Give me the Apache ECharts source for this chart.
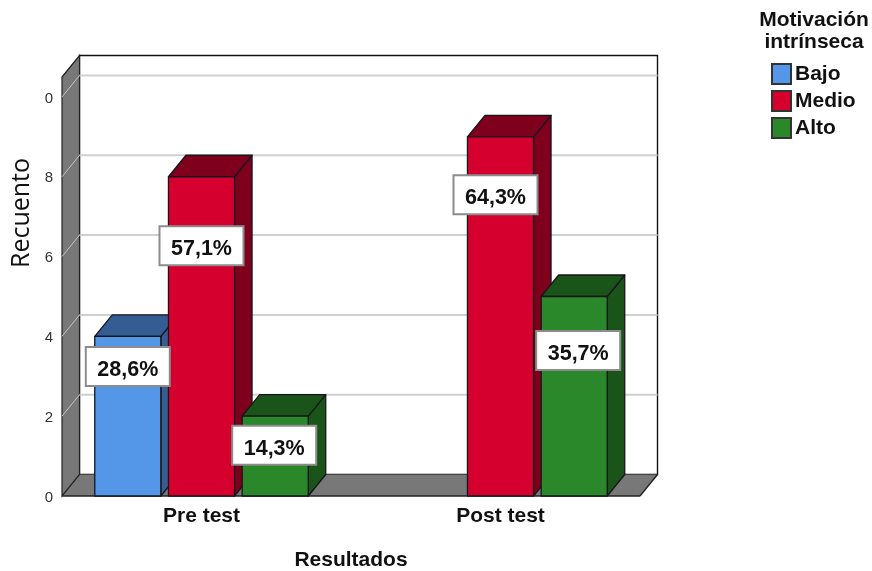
<!DOCTYPE html>
<html>
<head>
<meta charset="utf-8">
<style>html,body{margin:0;padding:0;background:#fff}#chart{width:872px;height:571px}</style>
<script src="https://cdn.jsdelivr.net/npm/echarts@6/dist/echarts.min.js"></script>
</head>
<body>
<div id="chart"></div>
<script>
// Counts per test moment and motivation level
const categories = ['Pre test', 'Post test'];
const bajo = [4, null];
const medio = [8, 9];
const alto = [2, 5];
const bajoPct = ['28,6%', null];
const medioPct = ['57,1%', '64,3%'];
const altoPct = ['14,3%', '35,7%'];
const tickLabels = ['0', '2', '4', '6', '8', '0'];
const tickValues = [0, 2, 4, 6, 8, 10];

// Oblique projection used for every box and for the chart frame
const DX = 17.5, DY = -21.5, INSET = 10;
const FONT = '"Liberation Sans", Arial, sans-serif';

function frameItem(params, api) {
  const cs = params.coordSys;
  const x0 = cs.x + INSET, x1 = cs.x + cs.width - INSET;
  const yb = cs.y + cs.height, yt = cs.y;
  const kids = [];
  kids.push({ type: 'polygon', shape: { points: [[x0 + DX, yt + DY], [x1 + DX, yt + DY], [x1 + DX, yb + DY], [x0 + DX, yb + DY]] },
    style: { fill: '#fff', stroke: '#111', lineWidth: 1.4 } });
  kids.push({ type: 'polygon', shape: { points: [[x0, yb], [x0 + DX, yb + DY], [x1 + DX, yb + DY], [x1, yb]] },
    style: { fill: '#787878' } });
  kids.push({ type: 'polygon', shape: { points: [[x0, yt], [x0 + DX, yt + DY], [x0 + DX, yb + DY], [x0, yb]] },
    style: { fill: '#787878', stroke: '#222', lineWidth: 1.2 } });
  tickValues.forEach(function (v) {
    if (v === 0) return;
    const y = api.coord([0, v])[1];
    kids.push({ type: 'line', shape: { x1: x0, y1: y, x2: x0 + DX, y2: y + DY }, style: { stroke: '#c4c4c4', lineWidth: 1 } });
    kids.push({ type: 'line', shape: { x1: x0 + DX, y1: y + DY, x2: x1 + DX, y2: y + DY }, style: { stroke: '#d0d0d0', lineWidth: 2 } });
  });
  kids.push({ type: 'line', shape: { x1: x0, y1: yb, x2: x1, y2: yb }, style: { stroke: '#222', lineWidth: 1.4 } });
  kids.push({ type: 'line', shape: { x1: x1, y1: yb, x2: x1 + DX, y2: yb + DY }, style: { stroke: '#222', lineWidth: 1.4 } });
  return { type: 'group', children: kids };
}

function barSeries(name, values, pcts, slot, front, dark, labelShift) {
  return {
    name: name,
    type: 'custom',
    coordinateSystem: 'cartesian2d',
    encode: { x: 0, y: 1 },
    itemStyle: { color: front, borderColor: '#333', borderWidth: 1 },
    data: values.map(function (v, i) { return [i, v]; }),
    renderItem: function (params, api) {
      const v = api.value(1);
      if (v === null || isNaN(v)) return null;
      const idx = api.value(0);
      const band = api.size([1, 0])[0];
      const top = api.coord([idx, v]);
      const base = api.coord([idx, 0]);
      const w = band * 0.221, pitch = band * 0.2465;
      const l = top[0] + slot * pitch - w / 2, r = l + w;
      const line = { stroke: '#16161c', lineWidth: 1.3, lineJoin: 'round' };
      const kids = [
        { type: 'polygon', shape: { points: [[r, top[1]], [r + DX, top[1] + DY], [r + DX, base[1] + DY], [r, base[1]]] },
          style: Object.assign({ fill: dark }, line) },
        { type: 'polygon', shape: { points: [[l, top[1]], [l + DX, top[1] + DY], [r + DX, top[1] + DY], [r, top[1]]] },
          style: Object.assign({ fill: dark }, line) },
        { type: 'rect', shape: { x: l, y: top[1], width: w, height: base[1] - top[1] },
          style: Object.assign({ fill: front }, line) }
      ];
      const shift = labelShift[idx];
      const cx = (l + r) / 2 + shift[0], cy = top[1] + shift[1];
      // White caption plate with the percentage sitting low inside it
      kids.push({
        type: 'rect', z2: 100,
        shape: { x: cx - 42, y: cy - 19.5, width: 84, height: 39 },
        style: { fill: '#fff', stroke: '#8c8c8c', lineWidth: 2 }
      });
      kids.push({
        type: 'text', z2: 101,
        x: cx, y: cy + 3.5,
        style: { text: pcts[idx], fill: '#111', font: 'bold 21.5px ' + FONT, align: 'center', verticalAlign: 'middle' }
      });
      return { type: 'group', children: kids };
    }
  };
}

const chart = echarts.init(document.getElementById('chart'), null, { renderer: 'canvas' });
chart.setOption({
  animation: false,
  backgroundColor: '#fff',
  title: {
    text: 'Motivación\nintrínseca',
    left: 814, top: 9, padding: 0, textAlign: 'center',
    textStyle: { fontFamily: FONT, fontSize: 21, fontWeight: 'bold', color: '#111', lineHeight: 22 }
  },
  legend: {
    data: ['Bajo', 'Medio', 'Alto'],
    orient: 'vertical', left: 771, top: 63, padding: 0,
    itemWidth: 19, itemHeight: 20, itemGap: 5,
    icon: 'rect', selectedMode: false,
    textStyle: { fontFamily: FONT, fontSize: 21, lineHeight: 22, fontWeight: 'bold', color: '#111', padding: [0, 0, 0, -1] }
  },
  grid: { left: 52, right: 222, top: 77, bottom: 75, outerBoundsMode: 'none' },
  xAxis: {
    type: 'category', data: categories,
    name: 'Resultados', nameLocation: 'middle', nameGap: 54,
    nameTextStyle: { fontFamily: FONT, fontSize: 21, fontWeight: 'bold', color: '#111' },
    axisLine: { show: false }, axisTick: { show: false }, splitLine: { show: false },
    axisLabel: { margin: 10, fontFamily: FONT, fontSize: 21, fontWeight: 'bold', color: '#111' }
  },
  yAxis: {
    type: 'value', min: 0, max: 10.5, interval: 2,
    axisLine: { show: false }, axisTick: { show: false }, splitLine: { show: false },
    axisLabel: {
      margin: -1, fontFamily: FONT, fontSize: 15, color: '#333', verticalAlign: 'top', lineHeight: 3,
      formatter: function (v) { const i = tickValues.indexOf(v); return i < 0 ? '' : tickLabels[i]; }
    }
  },
  graphic: [{
    type: 'text', x: 22, y: 213, rotation: Math.PI / 2,
    style: { text: 'Recuento', font: '25px "Open Sans", sans-serif', fill: '#111', align: 'center', verticalAlign: 'middle' }
  }],
  series: [
    { type: 'custom', name: 'marco', coordinateSystem: 'cartesian2d', silent: true, data: [[0, 0]], encode: { x: 0, y: 1 }, renderItem: frameItem },
    barSeries('Bajo', bajo, bajoPct, -1, '#5496e8', '#345d94', [[0, 30]]),
    barSeries('Medio', medio, medioPct, 0, '#d6002f', '#7f001c', [[0, 69], [-5, 58]]),
    barSeries('Alto', alto, altoPct, 1, '#2a872a', '#1a5419', [[-1, 29], [4, 54]])
  ]
});
</script>
</body>
</html>
